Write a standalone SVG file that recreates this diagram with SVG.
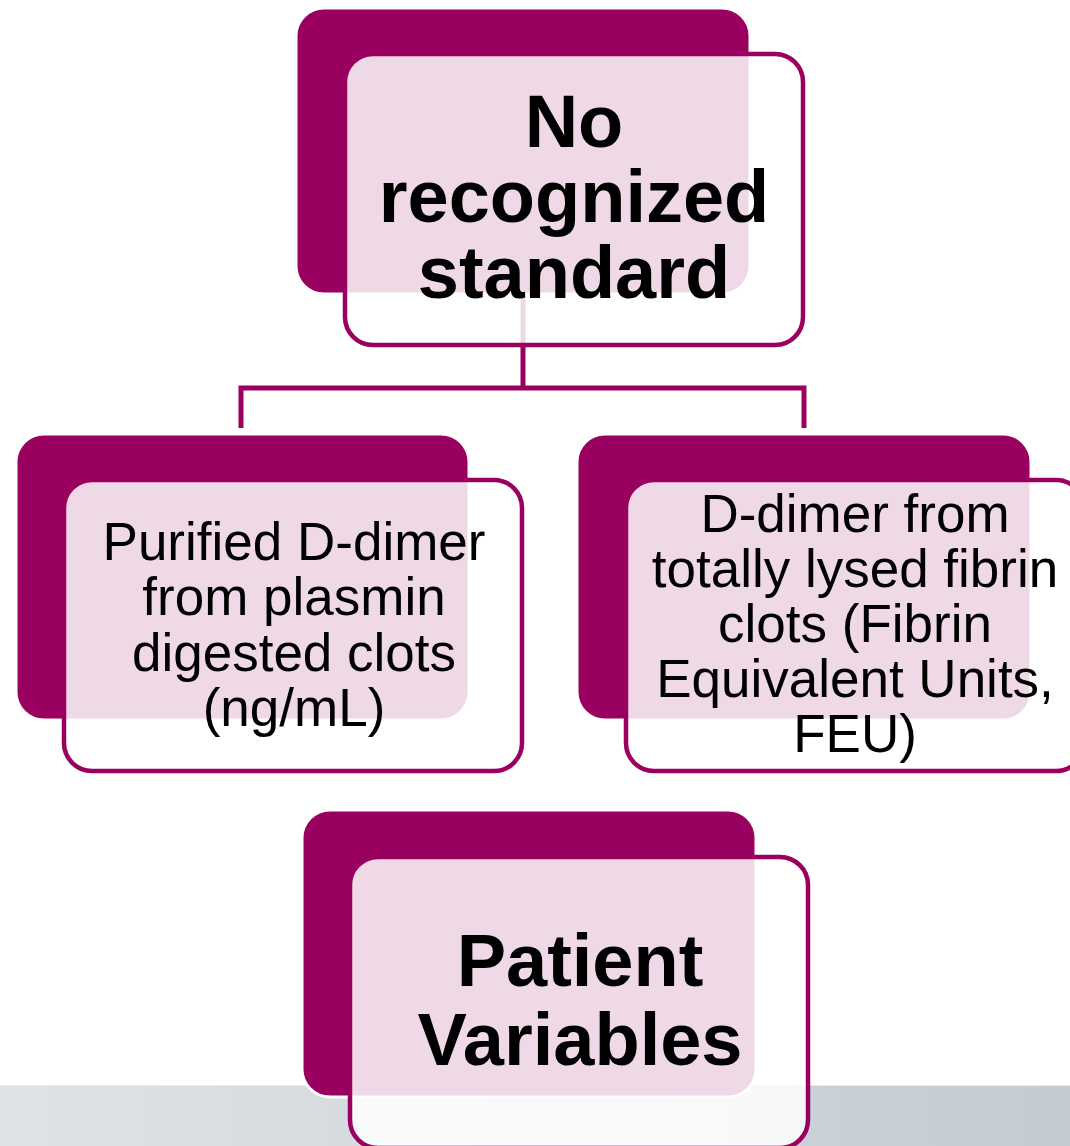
<svg xmlns="http://www.w3.org/2000/svg" width="1070" height="1146" viewBox="0 0 1070 1146">
  <defs>
    <linearGradient id="band" x1="0" y1="0" x2="1" y2="0">
      <stop offset="0" stop-color="#dfe3e6"/>
      <stop offset="1" stop-color="#c3ccd1"/>
    </linearGradient>
    <style>
      .back { fill: #99005f; stroke: #ffffff; stroke-width: 3; }
      .front { fill: #ffffff; fill-opacity: 0.85; stroke: #99005f; stroke-width: 4.5; }
      .link { fill: none; stroke: #99005f; stroke-width: 5; }
      .big { font-family: "Liberation Sans", Arial, sans-serif; font-weight: bold; font-size: 74px; fill: #000000; text-anchor: middle; }
      .small { font-family: "Liberation Sans", Arial, sans-serif; font-size: 53px; fill: #000000; text-anchor: middle; }
    </style>
  </defs>

  <!-- page background and footer band -->
  <rect x="0" y="0" width="1070" height="1146" fill="#ffffff"/>
  <rect x="0" y="1085" width="1070" height="61" fill="url(#band)"/>
  <line x1="0" y1="1085.5" x2="1070" y2="1085.5" stroke="#e9ecee" stroke-width="1"/>

  <!-- hierarchy connectors -->
  <g id="connectors">
    <path class="link" d="M523,250 V388 M241,428 V388 H804 V428"/>
  </g>

  <!-- root -->
  <g id="node-standard">
    <rect class="back" x="296" y="8" width="454" height="286" rx="28"/>
    <rect class="front" x="345" y="54" width="458" height="291" rx="28"/>
    <text class="big" x="574" y="147">No</text>
    <text class="big" x="574" y="222">recognized</text>
    <text class="big" x="574" y="298">standard</text>
  </g>

  <!-- left child -->
  <g id="node-purified">
    <rect class="back" x="16" y="434" width="453" height="286" rx="28"/>
    <rect class="front" x="64" y="480" width="458" height="291" rx="28"/>
    <text class="small" x="294" y="560">Purified D-dimer</text>
    <text class="small" x="294" y="615">from plasmin</text>
    <text class="small" x="294" y="671">digested clots</text>
    <text class="small" x="294" y="726">(ng/mL)</text>
  </g>

  <!-- right child -->
  <g id="node-feu">
    <rect class="back" x="577" y="434" width="454" height="286" rx="28"/>
    <rect class="front" x="626" y="480" width="458" height="291" rx="28"/>
    <text class="small" x="855" y="532">D-dimer from</text>
    <text class="small" x="855" y="587">totally lysed fibrin</text>
    <text class="small" x="855" y="642">clots (Fibrin</text>
    <text class="small" x="855" y="697">Equivalent Units,</text>
    <text class="small" x="855" y="752">FEU)</text>
  </g>

  <!-- standalone node -->
  <g id="node-patient">
    <rect class="back" x="302" y="810" width="454" height="287" rx="28"/>
    <rect class="front" x="350" y="857" width="458" height="291" rx="28"/>
    <text class="big" x="580" y="986">Patient</text>
    <text class="big" x="580" y="1065">Variables</text>
  </g>
</svg>
